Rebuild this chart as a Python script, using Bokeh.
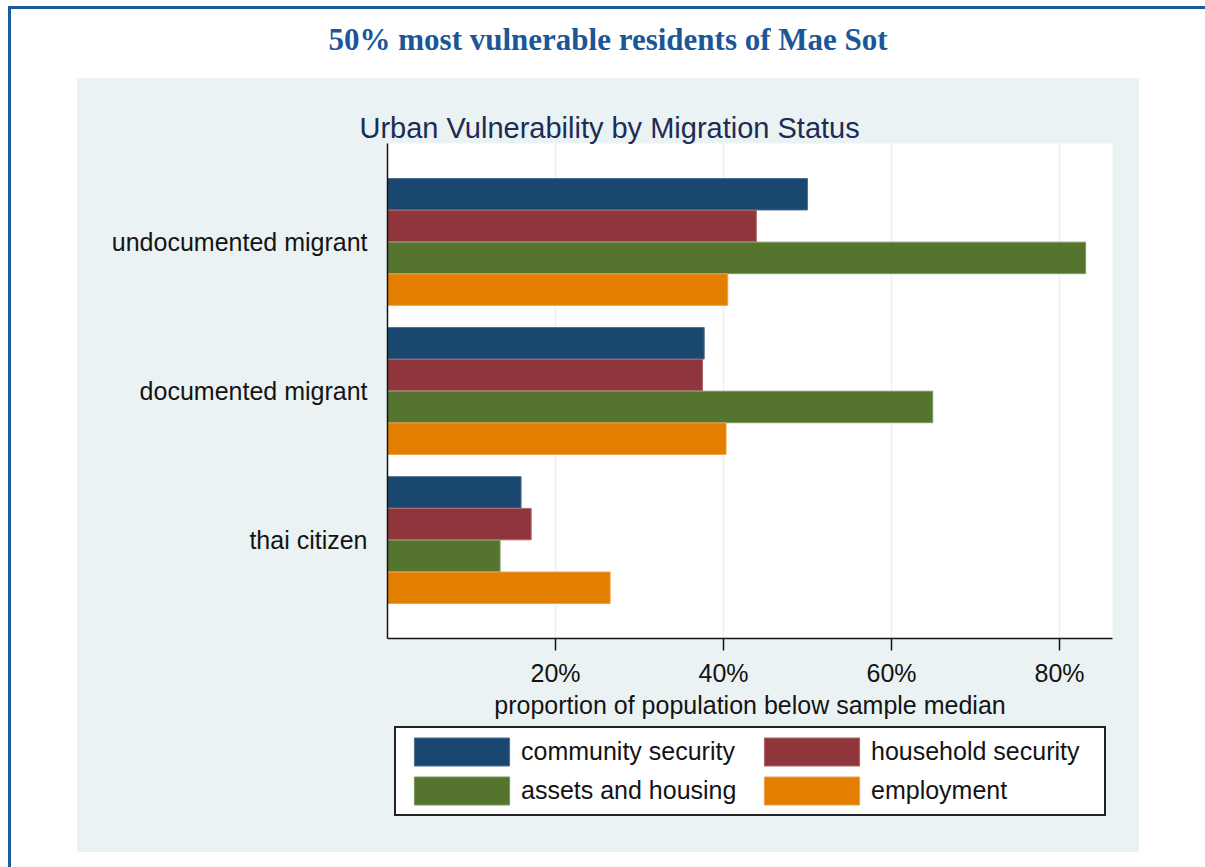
from bokeh.plotting import figure
from bokeh.models import (FactorRange, ColumnDataSource, Legend, LegendItem, Title,
                          NumeralTickFormatter, FixedTicker, Range1d)
from bokeh.layouts import column
from bokeh.transform import dodge
from bokeh.embed import file_html
from bokeh.resources import INLINE

# ---------------- data ----------------
groups = ["thai citizen", "documented migrant", "undocumented migrant"]
series = ["community security", "household security", "assets and housing", "employment"]
community_security = [0.159, 0.377, 0.500]
household_security = [0.171, 0.375, 0.439]
assets_and_housing = [0.134, 0.649, 0.831]
employment = [0.265, 0.403, 0.405]
x_ticks = [0.2, 0.4, 0.6, 0.8]

main_title = "50% most vulnerable residents of Mae Sot"
chart_title = "Urban Vulnerability by Migration Status"
x_label = "proportion of population below sample median"

# ---------------- styles ----------------
colors = ["#1a476f", "#90353b", "#55752f", "#e37e00"]
edge_colors = ["#4d7090", "#a9666b", "#7c9660", "#eea04a"]
panel_color = "#eaf2f3"
frame_blue = "#1d5c9c"
text_color = "#141414"
FONT = "Liberation Sans"
FS = "25px"

W = 1205
H_TOP = 722          # main chart figure height
H_LEG = 867 - H_TOP  # legend strip height


def page_background(dy):
    """page decoration (blue frame lines, light panel) seen from a figure at page y = dy"""
    return (
        f"linear-gradient({frame_blue},{frame_blue}) 8px {6 - dy}px / 1197px 3px no-repeat, "
        f"linear-gradient({frame_blue},{frame_blue}) 8px {6 - dy}px / 3px 861px no-repeat, "
        f"linear-gradient({panel_color},{panel_color}) 77px {78 - dy}px / 1062px 774px no-repeat, "
        "white"
    )


p = figure(width=W, height=H_TOP, frame_width=725, frame_height=495,
           output_backend="svg", toolbar_location=None,
           y_range=FactorRange(factors=groups, range_padding=0.107),
           x_range=(0, 0.863),
           min_border_left=387, min_border_right=93,
           min_border_top=143, min_border_bottom=H_TOP - 638,
           styles={"background": page_background(0)})

p.border_fill_color = None
p.background_fill_color = "white"
p.outline_line_color = None

# ---------------- titles (first added = nearest to the plot) ----------------
p.add_layout(Title(text=chart_title, align="left", offset=-28, standoff=0,
                   vertical_align="bottom", text_font=FONT, text_font_style="normal",
                   text_font_size="29px", text_color="#1c2c54"), "above")
p.add_layout(Title(text=" ", text_font_size="2px", standoff=49), "above")

p.title.text = main_title
p.title.align = "left"
p.title.offset = -59
p.title.standoff = 0
p.title.vertical_align = "bottom"
p.title.text_font = "Liberation Serif"
p.title.text_font_style = "bold"
p.title.text_font_size = "31px"
p.title.text_color = "#1b5797"

# ---------------- bars ----------------
offsets = [0.320, 0.107, -0.107, -0.320]
values = [community_security, household_security, assets_and_housing, employment]
for vals, off, c, ec in zip(values, offsets, colors, edge_colors):
    src = ColumnDataSource(dict(group=groups, value=vals))
    p.hbar(y=dodge("group", off, range=p.y_range), left=0, right="value",
           height=0.211, source=src, fill_color=c, line_color=ec, line_width=1)

# ---------------- axes ----------------
p.xaxis.ticker = FixedTicker(ticks=x_ticks)
p.xaxis.formatter = NumeralTickFormatter(format="0%")
p.xaxis.major_tick_out = 12
p.xaxis.major_tick_in = 0
p.xaxis.minor_tick_out = 0
p.xaxis.minor_tick_in = 0
p.xaxis.axis_line_width = 1.5
p.xaxis.axis_line_color = text_color
p.xaxis.major_tick_line_width = 1.5
p.xaxis.major_tick_line_color = text_color
p.xaxis.major_label_text_font = FONT
p.xaxis.major_label_text_font_size = FS
p.xaxis.major_label_text_color = text_color
p.xaxis.major_label_standoff = 8
p.xaxis.axis_label = x_label
p.xaxis.axis_label_text_font = FONT
p.xaxis.axis_label_text_font_size = FS
p.xaxis.axis_label_text_font_style = "normal"
p.xaxis.axis_label_text_color = text_color
p.xaxis.axis_label_standoff = 1

p.yaxis.major_tick_out = 0
p.yaxis.major_tick_in = 0
p.yaxis.minor_tick_out = 0
p.yaxis.axis_line_width = 1.5
p.yaxis.axis_line_color = text_color
p.yaxis.major_label_text_font = FONT
p.yaxis.major_label_text_font_size = FS
p.yaxis.major_label_text_color = text_color
p.yaxis.major_label_standoff = 20

p.xgrid.grid_line_color = panel_color
p.xgrid.grid_line_width = 1.5
p.ygrid.grid_line_color = None

# ---------------- legend (strip below the chart; its frame lines up with the chart's) ----------------
lf = figure(width=W, height=H_LEG, output_backend="svg", toolbar_location=None,
            x_range=Range1d(0, 1), y_range=Range1d(0, 1),
            x_axis_location=None, y_axis_location=None, min_border=0,
            styles={"background": page_background(H_TOP)})
lf.border_fill_color = None
lf.background_fill_color = None
lf.outline_line_color = None
lf.grid.visible = False

# legend proxies: one bar each, lying outside the strip's visible range
legend_renderers = []
for c, ec in zip(colors, edge_colors):
    legend_renderers.append(
        lf.hbar(y=[-10], left=[0], right=[1], height=0.5,
                fill_color=c, line_color=ec, line_width=1))

legend = Legend(items=[LegendItem(label=s, renderers=[r]) for s, r in zip(series, legend_renderers)],
                location=(7, 51), ncols=2, orientation="horizontal",
                glyph_width=119, glyph_height=35, label_width=227, label_standoff=0,
                spacing=4, padding=6, margin=0,
                label_text_font=FONT, label_text_font_size=FS,
                label_text_color=text_color,
                border_line_color="#222222", border_line_width=2, border_line_alpha=1,
                background_fill_color="white", background_fill_alpha=1)
lf.add_layout(legend)

layout = column(p, lf, spacing=0)
open("out.html", "w").write(file_html(layout, INLINE))
